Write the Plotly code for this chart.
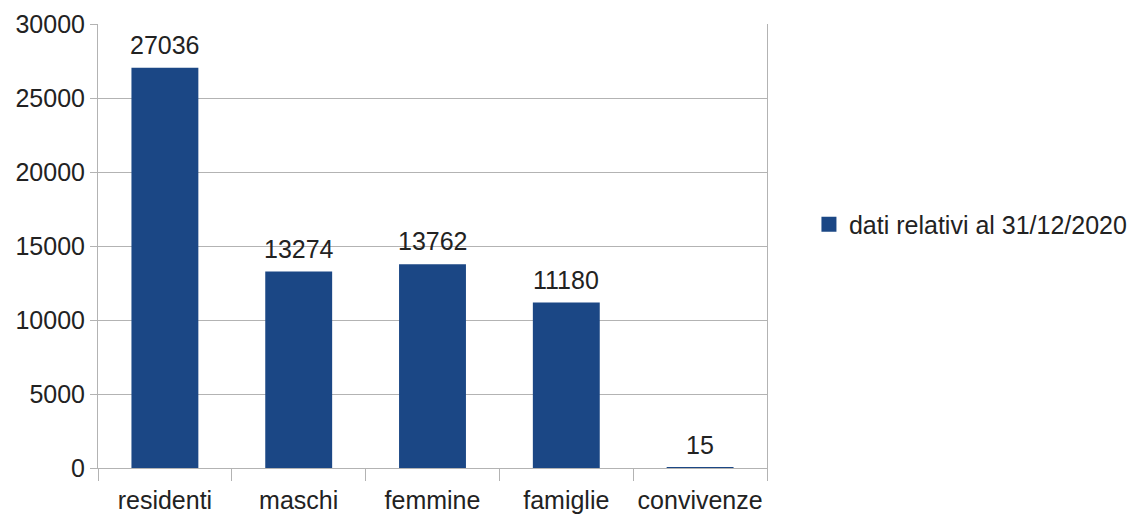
import plotly.graph_objects as go

# Valori demografici al 31/12/2020
categorie = ["residenti", "maschi", "femmine", "famiglie", "convivenze"]
valori = [27036, 13274, 13762, 11180, 15]
serie = "dati relativi al 31/12/2020"
y_ticks = [0, 5000, 10000, 15000, 20000, 25000, 30000]

BAR = "#1b4785"
GRID = "#b3b3b3"
FONT = "Liberation Sans, Arial, sans-serif"
TXT = "#222222"

fig = go.Figure()
fig.add_bar(
    x=categorie,
    y=valori,
    name=serie,
    marker=dict(color=BAR, line=dict(width=0)),
    showlegend=False,
)
# voce di legenda con quadratino più grande
fig.add_scatter(
    x=[None],
    y=[None],
    mode="markers",
    name=serie,
    marker=dict(symbol="square", size=15, color=BAR),
    showlegend=True,
)

# etichette dei valori sopra le barre
for cat, val in zip(categorie, valori):
    fig.add_annotation(
        x=cat,
        y=val,
        text=str(val),
        showarrow=False,
        yanchor="bottom",
        yshift=7,
        font=dict(family=FONT, size=25, color=TXT),
    )

fig.update_layout(
    width=1136,
    height=516,
    margin=dict(l=98, r=369, t=24, b=48, autoexpand=False),
    paper_bgcolor="white",
    plot_bgcolor="white",
    bargap=0.5,
    font=dict(family=FONT, size=25, color=TXT),
    showlegend=True,
    legend=dict(
        xref="container",
        yref="container",
        x=0.7121,
        xanchor="left",
        y=0.565,
        yanchor="middle",
        font=dict(family=FONT, size=25, color=TXT),
        bgcolor="rgba(0,0,0,0)",
        itemwidth=30,
    ),
    xaxis=dict(
        type="category",
        tickson="boundaries",
        ticks="outside",
        ticklen=12,
        tickcolor=GRID,
        tickwidth=1,
        tickangle=0,
        ticklabelstandoff=10,
        automargin=False,
        showline=True,
        linecolor=GRID,
        linewidth=1,
        showgrid=False,
        tickfont=dict(family=FONT, size=25, color=TXT),
    ),
    yaxis=dict(
        range=[0, 30000],
        tickvals=y_ticks,
        ticktext=[str(t) for t in y_ticks],
        ticks="outside",
        ticklen=7,
        tickcolor=GRID,
        showgrid=True,
        gridcolor=GRID,
        gridwidth=1,
        showline=True,
        linecolor=GRID,
        mirror=True,
        zeroline=False,
        automargin=False,
        tickfont=dict(family=FONT, size=25, color=TXT),
    ),
)

fig.write_html("out.html")
